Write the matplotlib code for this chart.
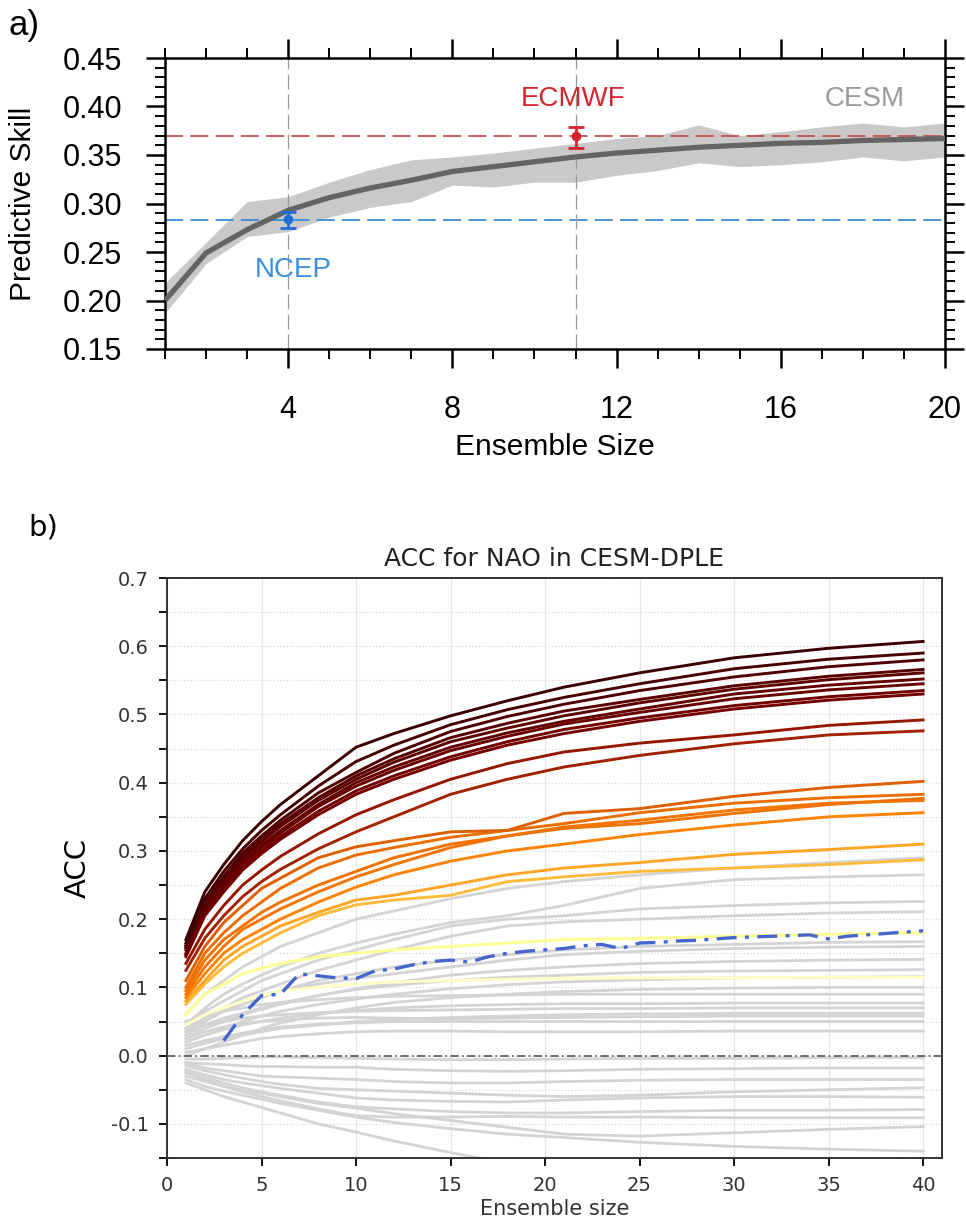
import matplotlib
matplotlib.use('Agg')
import matplotlib.pyplot as plt
from matplotlib import font_manager
from matplotlib.colors import Normalize
from matplotlib.ticker import MultipleLocator, FormatStrFormatter

names = {f.name for f in font_manager.fontManager.ttflist}
FA = 'Liberation Sans'
FB = 'DejaVu Sans'
FN = 'Liberation Sans Narrow' if 'Liberation Sans Narrow' in names else 'DejaVu Sans'

# ---------------- Panel a data ----------------
ens_a = [1, 2, 3, 4, 5, 6, 7, 8, 9, 10, 11, 12, 13, 14, 15, 16, 17, 18, 19, 20]
cesm_mean = [0.200, 0.249, 0.273, 0.293, 0.306, 0.316, 0.324, 0.333, 0.338, 0.343,
             0.348, 0.352, 0.355, 0.358, 0.360, 0.362, 0.363, 0.365, 0.366, 0.367]
cesm_upper = [0.218, 0.260, 0.302, 0.307, 0.322, 0.335, 0.345, 0.348, 0.352, 0.357,
              0.362, 0.367, 0.370, 0.381, 0.370, 0.374, 0.379, 0.383, 0.379, 0.383]
cesm_lower = [0.187, 0.238, 0.266, 0.271, 0.286, 0.296, 0.302, 0.319, 0.317, 0.322,
              0.322, 0.329, 0.334, 0.342, 0.338, 0.340, 0.343, 0.348, 0.344, 0.348]
ecmwf_size, ecmwf_skill, ecmwf_lo, ecmwf_hi = 11, 0.370, 0.357, 0.379
ncep_size, ncep_skill, ncep_lo, ncep_hi = 4, 0.284, 0.275, 0.291
ecmwf_ref = 0.370
ncep_ref = 0.283

# ---------------- Panel b data ----------------
xs_b = [1, 2, 3, 4, 5, 6, 8, 10, 12, 15, 18, 21, 25, 30, 35, 40]
colored_acc = [
    [0.170, 0.240, 0.280, 0.315, 0.343, 0.368, 0.410, 0.452, 0.472, 0.498, 0.520, 0.540, 0.561, 0.583, 0.597, 0.607],
    [0.165, 0.230, 0.270, 0.303, 0.330, 0.353, 0.395, 0.431, 0.455, 0.485, 0.507, 0.525, 0.545, 0.567, 0.581, 0.590],
    [0.160, 0.225, 0.263, 0.297, 0.322, 0.345, 0.385, 0.415, 0.443, 0.475, 0.497, 0.515, 0.535, 0.555, 0.570, 0.580],
    [0.158, 0.222, 0.258, 0.292, 0.318, 0.340, 0.378, 0.410, 0.435, 0.466, 0.487, 0.505, 0.522, 0.542, 0.556, 0.566],
    [0.162, 0.220, 0.256, 0.288, 0.313, 0.336, 0.374, 0.405, 0.430, 0.460, 0.480, 0.498, 0.517, 0.537, 0.551, 0.561],
    [0.150, 0.215, 0.250, 0.283, 0.308, 0.330, 0.368, 0.400, 0.423, 0.452, 0.473, 0.490, 0.508, 0.530, 0.543, 0.552],
    [0.155, 0.212, 0.247, 0.280, 0.305, 0.326, 0.365, 0.395, 0.418, 0.447, 0.468, 0.486, 0.503, 0.523, 0.536, 0.545],
    [0.148, 0.208, 0.243, 0.275, 0.300, 0.321, 0.358, 0.388, 0.410, 0.438, 0.460, 0.478, 0.495, 0.513, 0.526, 0.535],
    [0.145, 0.205, 0.240, 0.272, 0.296, 0.317, 0.353, 0.383, 0.405, 0.433, 0.455, 0.472, 0.490, 0.508, 0.521, 0.530],
    [0.135, 0.185, 0.220, 0.250, 0.272, 0.292, 0.325, 0.353, 0.375, 0.405, 0.428, 0.445, 0.458, 0.470, 0.484, 0.492],
    [0.125, 0.172, 0.205, 0.233, 0.255, 0.273, 0.303, 0.328, 0.350, 0.383, 0.405, 0.423, 0.440, 0.457, 0.470, 0.476],
    [0.110, 0.160, 0.195, 0.220, 0.245, 0.260, 0.290, 0.306, 0.315, 0.328, 0.330, 0.355, 0.362, 0.380, 0.393, 0.402],
    [0.100, 0.150, 0.180, 0.205, 0.225, 0.245, 0.275, 0.294, 0.305, 0.320, 0.330, 0.340, 0.356, 0.370, 0.378, 0.383],
    [0.095, 0.140, 0.170, 0.190, 0.210, 0.225, 0.250, 0.270, 0.290, 0.310, 0.322, 0.333, 0.340, 0.355, 0.368, 0.377],
    [0.090, 0.130, 0.160, 0.185, 0.200, 0.215, 0.240, 0.262, 0.280, 0.305, 0.322, 0.335, 0.345, 0.360, 0.370, 0.374],
    [0.085, 0.120, 0.150, 0.170, 0.185, 0.200, 0.225, 0.247, 0.265, 0.285, 0.300, 0.310, 0.324, 0.338, 0.350, 0.356],
    [0.080, 0.110, 0.140, 0.160, 0.175, 0.190, 0.210, 0.228, 0.235, 0.250, 0.265, 0.275, 0.283, 0.295, 0.302, 0.310],
    [0.075, 0.105, 0.130, 0.150, 0.165, 0.180, 0.205, 0.221, 0.228, 0.235, 0.255, 0.262, 0.270, 0.275, 0.280, 0.287],
    [0.060, 0.090, 0.105, 0.120, 0.128, 0.135, 0.145, 0.150, 0.155, 0.160, 0.165, 0.170, 0.172, 0.175, 0.178, 0.180],
    [0.045, 0.060, 0.070, 0.080, 0.088, 0.095, 0.100, 0.105, 0.108, 0.110, 0.112, 0.113, 0.114, 0.114, 0.115, 0.115],
]
gray_acc = [
    [0.060, 0.090, 0.110, 0.130, 0.145, 0.160, 0.180, 0.200, 0.212, 0.230, 0.245, 0.255, 0.265, 0.275, 0.283, 0.290],
    [0.045, 0.070, 0.090, 0.105, 0.118, 0.130, 0.150, 0.165, 0.178, 0.195, 0.205, 0.220, 0.245, 0.258, 0.262, 0.265],
    [0.040, 0.065, 0.080, 0.095, 0.110, 0.120, 0.140, 0.155, 0.170, 0.190, 0.200, 0.205, 0.215, 0.220, 0.224, 0.226],
    [0.035, 0.055, 0.070, 0.085, 0.095, 0.105, 0.125, 0.140, 0.155, 0.175, 0.190, 0.196, 0.200, 0.205, 0.209, 0.211],
    [0.030, 0.050, 0.065, 0.075, 0.085, 0.095, 0.110, 0.120, 0.130, 0.140, 0.148, 0.155, 0.160, 0.163, 0.166, 0.167],
    [0.040, 0.055, 0.068, 0.080, 0.088, 0.095, 0.105, 0.113, 0.120, 0.130, 0.140, 0.148, 0.153, 0.157, 0.159, 0.160],
    [0.025, 0.040, 0.050, 0.060, 0.068, 0.075, 0.088, 0.098, 0.107, 0.118, 0.125, 0.130, 0.135, 0.138, 0.140, 0.141],
    [0.030, 0.045, 0.055, 0.062, 0.070, 0.077, 0.088, 0.097, 0.103, 0.110, 0.115, 0.118, 0.122, 0.124, 0.125, 0.126],
    [0.020, 0.030, 0.040, 0.050, 0.058, 0.065, 0.075, 0.083, 0.090, 0.098, 0.104, 0.108, 0.111, 0.114, 0.115, 0.116],
    [0.000, 0.010, 0.020, 0.030, 0.040, 0.048, 0.060, 0.070, 0.078, 0.085, 0.090, 0.094, 0.097, 0.099, 0.100, 0.100],
    [0.050, 0.060, 0.065, 0.070, 0.075, 0.078, 0.082, 0.085, 0.087, 0.088, 0.089, 0.090, 0.090, 0.090, 0.090, 0.090],
    [0.020, 0.030, 0.038, 0.045, 0.050, 0.055, 0.062, 0.066, 0.070, 0.073, 0.075, 0.076, 0.076, 0.077, 0.077, 0.077],
    [0.035, 0.045, 0.050, 0.055, 0.058, 0.060, 0.063, 0.065, 0.066, 0.067, 0.068, 0.069, 0.069, 0.070, 0.070, 0.070],
    [0.010, 0.018, 0.025, 0.030, 0.035, 0.040, 0.045, 0.050, 0.053, 0.056, 0.058, 0.060, 0.061, 0.062, 0.062, 0.062],
    [0.025, 0.035, 0.042, 0.048, 0.050, 0.052, 0.055, 0.056, 0.055, 0.054, 0.055, 0.056, 0.057, 0.058, 0.058, 0.058],
    [0.015, 0.022, 0.028, 0.033, 0.038, 0.042, 0.046, 0.048, 0.050, 0.050, 0.050, 0.050, 0.050, 0.050, 0.050, 0.050],
    [0.005, 0.010, 0.015, 0.020, 0.025, 0.028, 0.032, 0.035, 0.036, 0.036, 0.035, 0.035, 0.035, 0.036, 0.036, 0.036],
    [-0.005, -0.005, -0.004, -0.003, -0.002, -0.002, -0.003, -0.004, -0.005, -0.006, -0.006, -0.005, -0.004, -0.004, -0.003, -0.003],
    [-0.010, -0.012, -0.013, -0.015, -0.016, -0.016, -0.017, -0.017, -0.020, -0.022, -0.023, -0.022, -0.020, -0.019, -0.018, -0.018],
    [-0.012, -0.018, -0.022, -0.026, -0.030, -0.031, -0.033, -0.035, -0.038, -0.040, -0.040, -0.038, -0.036, -0.035, -0.035, -0.035],
    [-0.015, -0.022, -0.028, -0.033, -0.038, -0.042, -0.048, -0.050, -0.052, -0.055, -0.058, -0.060, -0.058, -0.053, -0.050, -0.047],
    [-0.020, -0.028, -0.035, -0.040, -0.044, -0.048, -0.055, -0.062, -0.065, -0.067, -0.068, -0.065, -0.062, -0.060, -0.060, -0.061],
    [-0.022, -0.032, -0.040, -0.047, -0.053, -0.058, -0.068, -0.075, -0.078, -0.082, -0.084, -0.084, -0.082, -0.080, -0.080, -0.079],
    [-0.025, -0.035, -0.045, -0.053, -0.060, -0.066, -0.078, -0.088, -0.090, -0.090, -0.089, -0.090, -0.090, -0.091, -0.091, -0.091],
    [-0.030, -0.038, -0.045, -0.050, -0.055, -0.060, -0.070, -0.077, -0.085, -0.095, -0.105, -0.115, -0.118, -0.113, -0.108, -0.104],
    [-0.035, -0.045, -0.052, -0.058, -0.064, -0.070, -0.080, -0.090, -0.098, -0.107, -0.115, -0.120, -0.127, -0.133, -0.137, -0.140],
    [-0.040, -0.050, -0.060, -0.068, -0.076, -0.084, -0.100, -0.112, -0.125, -0.142, -0.158, -0.170, -0.180, -0.188, -0.193, -0.197],
]
obs_x = list(range(3, 41))
obs_acc = [0.022, 0.060, 0.088, 0.090, 0.120, 0.117, 0.114, 0.113, 0.124, 0.127,
           0.133, 0.138, 0.140, 0.137, 0.145, 0.150, 0.153, 0.155, 0.157, 0.161,
           0.163, 0.157, 0.165, 0.166, 0.168, 0.169, 0.171, 0.173, 0.174, 0.175,
           0.176, 0.177, 0.171, 0.175, 0.177, 0.179, 0.181, 0.183]

W, H = 966, 1225
fig = plt.figure(figsize=(W / 100, H / 100), dpi=100)

# ================= Panel a =================
ax = fig.add_axes([165 / W, 1 - 349 / H, 780 / W, 291 / H])
ax.fill_between(ens_a, cesm_lower, cesm_upper, color='#c9c9c9', lw=0, zorder=1)
ax.plot(ens_a, cesm_mean, color='#646464', lw=3.8, zorder=3, solid_capstyle='butt')
ax.axhline(ecmwf_ref, color='#c8504c', lw=1.3, dashes=(10, 4), zorder=2)
ax.axhline(ncep_ref, color='#3f8ad6', lw=1.3, dashes=(10, 4), zorder=2)
ax.axvline(ncep_size, color='#9a9a9a', lw=0.9, dashes=(12, 4), zorder=2)
ax.axvline(ecmwf_size, color='#9a9a9a', lw=0.9, dashes=(12, 4), zorder=2)
ax.errorbar([ncep_size], [ncep_skill], yerr=[[ncep_skill - ncep_lo], [ncep_hi - ncep_skill]],
            fmt='o', color='#1f6fd6', ms=6, capsize=6, capthick=2, elinewidth=2, zorder=5)
ax.errorbar([ecmwf_size], [ecmwf_skill], yerr=[[ecmwf_skill - ecmwf_lo], [ecmwf_hi - ecmwf_skill]],
            fmt='o', color='#d8232f', ms=6, capsize=6, capthick=2, elinewidth=2, zorder=5)
ax.text(ncep_size + 0.12, ncep_skill - 0.053, 'NCEP', color='#3a8ee0', fontsize=20,
        family=FA, ha='center', va='center')
ax.text(ecmwf_size - 0.05, ecmwf_skill + 0.038, 'ECMWF', color='#d8232f', fontsize=20,
        family=FA, ha='center', va='center')
ax.text(18.05, ecmwf_skill + 0.038, 'CESM', color='#9a9a9a', fontsize=20,
        family=FA, ha='center', va='center')

ax.set_xlim(1, 20)
ax.set_ylim(0.15, 0.45)
ax.set_xticks([4, 8, 12, 16, 20])
ax.xaxis.set_minor_locator(MultipleLocator(1))
ax.yaxis.set_major_locator(MultipleLocator(0.05))
ax.yaxis.set_minor_locator(MultipleLocator(0.01))
ax.yaxis.set_major_formatter(FormatStrFormatter('%.2f'))
ax.tick_params(which='major', direction='out', length=14, width=1.8, top=True, right=True,
               labelsize=22)
ax.tick_params(axis='x', which='major', pad=19)
ax.tick_params(axis='y', which='major', pad=17)
ax.tick_params(which='minor', direction='out', length=7, width=1.4, top=True, right=True)
for lab in ax.get_xticklabels() + ax.get_yticklabels():
    lab.set_family(FA)
for s in ax.spines.values():
    s.set_linewidth(1.8)
ax.set_xlabel('Ensemble Size', fontsize=21.5, family=FA)
ax.set_ylabel('Predictive Skill', fontsize=21.5, family=FA)
ax.xaxis.set_label_coords(0.5, -(433 - 349) / 291)
ax.yaxis.set_label_coords((37 - 165) / 780, 0.5)
fig.text(8 / W, 1 - 25 / H, 'a)', fontsize=25, family=FA, va='center', ha='left')

# ================= Panel b =================
bx = fig.add_axes([167 / W, 1 - 1158 / H, 775 / W, 580 / H])
bx.set_axisbelow(True)
bx.set_xlim(0, 41)
bx.set_ylim(-0.15, 0.7)
bx.grid(True, which='both', axis='y', color='#d8d8d8', ls=':', lw=0.9)
bx.grid(True, which='major', axis='x', color='#e6e6e6', ls='-', lw=0.9)

for g in gray_acc:
    bx.plot(xs_b, g, color='#d4d4d4', lw=2.0, zorder=2)
norm = Normalize(0.04, 0.68)
cmap = plt.get_cmap('afmhot_r')
for c in sorted(colored_acc, key=lambda r: r[-1]):
    bx.plot(xs_b, c, color=cmap(norm(c[-1])), lw=2.1, zorder=3)
bx.axhline(0, color='#555555', lw=1.2, dashes=(5, 2, 1, 2), zorder=4)
bx.plot(obs_x, obs_acc, color='#4466cc', lw=2.4, dashes=(6, 2.5, 1.2, 2.5), zorder=5)

bx.set_xticks(list(range(0, 41, 5)))
bx.yaxis.set_major_locator(MultipleLocator(0.1))
bx.yaxis.set_minor_locator(MultipleLocator(0.05))
bx.yaxis.set_major_formatter(FormatStrFormatter('%.1f'))
bx.tick_params(which='both', direction='out', length=6, width=1.3, labelsize=14,
               labelcolor='#333333', pad=7)
for s in bx.spines.values():
    s.set_linewidth(1.4)
    s.set_color('#333333')
bx.set_title('ACC for NAO in CESM-DPLE', fontsize=18, family=FB, pad=9, color='#222222')
bx.set_xlabel('Ensemble size', fontsize=15, family=FB, color='#333333')
bx.set_ylabel('ACC', fontsize=21, family=FN)
bx.xaxis.set_label_coords(0.5, -(1199 - 1158) / 580)
bx.yaxis.set_label_coords((92 - 167) / 775, 0.5)
fig.text(28 / W, 1 - 527 / H, 'b)', fontsize=21, family=FB, va='center', ha='left')

fig.savefig('out.png', dpi=100)
